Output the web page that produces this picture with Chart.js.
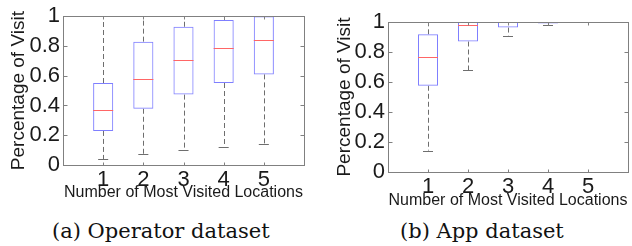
<!DOCTYPE html>
<html>
<head>
<meta charset="utf-8">
<script src="https://cdn.jsdelivr.net/npm/chart.js@4.4.1/dist/chart.umd.min.js"></script>
<style>
    body { margin: 0; background: #fff; width: 632px; height: 246px; position: relative; overflow: hidden; }
    canvas { position: absolute; top: 0; }
    .caption { position: absolute; top: 219px; font-family: 'DejaVu Serif', serif; font-size: 21px; line-height: 24px; color: #111; white-space: nowrap; }
</style>
</head>
<body>
<canvas id="operatorChart" width="316" height="215" style="left:0"></canvas>
<canvas id="appChart" width="316" height="215" style="left:316px"></canvas>
<div class="caption" style="left:52px">(a) Operator dataset</div>
<div class="caption" style="left:400px">(b) App dataset</div>
<script>
const categories = [1, 2, 3, 4, 5];
const yTickValues = [0, 0.2, 0.4, 0.6, 0.8, 1];
const yTickLabels = ['0', '0.2', '0.4', '0.6', '0.8', '1'];
const xTitle = 'Number of Most Visited Locations';
const yTitle = 'Percentage of Visit';

// Operator dataset (a)
const operatorLow = [0.04, 0.075, 0.10, 0.122, 0.142];
const operatorQ1 = [0.229, 0.378, 0.473, 0.551, 0.609];
const operatorMedian = [0.367, 0.58, 0.704, 0.785, 0.837];
const operatorQ3 = [0.551, 0.829, 0.929, 0.975, 1.0];
const operatorHigh = [1, 1, 1, 1, 1];

// App dataset (b)
const appLow = [0.143, 0.679, 0.908, 0.982, 1.0];
const appQ1 = [0.575, 0.87, 0.963, 0.99, 1.0];
const appMedian = [0.764, 0.983, 1.0, 1.0, 1.0];
const appQ3 = [0.918, 1.0, 1.0, 1.0, 1.0];
const appHigh = [1, 1, 1, 1, 1];

const BOX_COLOR = '#7f7fff';
const MEDIAN_COLOR = '#ff6666';
const WHISKER_COLOR = '#6e6e6e';
const FRAME_COLOR = '#808080';

Chart.defaults.font.family = "'Liberation Sans', Arial, sans-serif";
Chart.defaults.color = '#1a1a1a';

const crisp = v => Math.round(v) + 0.5;

// whiskers, medians, frame and inward ticks, all placed through the chart scales
const boxPlotPlugin = {
    id: 'boxPlot',
    beforeDatasetsDraw(chart) {
        const { ctx, scales: { x, y } } = chart;
        const st = chart.data.datasets[0].stats;
        ctx.save();
        ctx.strokeStyle = WHISKER_COLOR;
        ctx.lineWidth = 1;
        categories.forEach((c, i) => {
            const px = crisp(x.getPixelForValue(c));
            const capL = x.getPixelForValue(c - 0.125);
            const capR = x.getPixelForValue(c + 0.125);
            ctx.setLineDash([5, 3]);
            ctx.beginPath();
            ctx.moveTo(px, y.getPixelForValue(st.q3[i]));
            ctx.lineTo(px, y.getPixelForValue(st.high[i]));
            ctx.moveTo(px, y.getPixelForValue(st.q1[i]));
            ctx.lineTo(px, y.getPixelForValue(st.low[i]));
            ctx.stroke();
            ctx.setLineDash([]);
            ctx.beginPath();
            [st.high[i], st.low[i]].forEach(v => {
                const py = crisp(y.getPixelForValue(v));
                ctx.moveTo(capL, py);
                ctx.lineTo(capR, py);
            });
            ctx.stroke();
        });
        ctx.restore();
    },
    afterDatasetsDraw(chart) {
        const { ctx, scales: { x, y } } = chart;
        const st = chart.data.datasets[0].stats;
        ctx.save();
        ctx.strokeStyle = MEDIAN_COLOR;
        ctx.lineWidth = 1;
        ctx.beginPath();
        categories.forEach((c, i) => {
            const py = crisp(y.getPixelForValue(st.median[i]));
            ctx.moveTo(x.getPixelForValue(c - 0.25), py);
            ctx.lineTo(x.getPixelForValue(c + 0.25), py);
        });
        ctx.stroke();

        const { left, right, top, bottom } = chart.chartArea;
        const l = crisp(left), r = crisp(right), t = crisp(top), b = crisp(bottom);
        ctx.strokeStyle = FRAME_COLOR;
        ctx.strokeRect(l, t, r - l, b - t);
        ctx.beginPath();
        yTickValues.forEach(v => {
            const py = crisp(y.getPixelForValue(v));
            ctx.moveTo(l, py); ctx.lineTo(l + 4, py);
            ctx.moveTo(r, py); ctx.lineTo(r - 4, py);
        });
        categories.forEach(c => {
            const px = crisp(x.getPixelForValue(c));
            ctx.moveTo(px, b); ctx.lineTo(px, b - 3);
            ctx.moveTo(px, t); ctx.lineTo(px, t + 3);
        });
        ctx.stroke();
        ctx.restore();
    }
};

function drawBoxChart(canvasId, low, q1, median, q3, high, lay) {
    const ctx = document.getElementById(canvasId).getContext('2d');
    return new Chart(ctx, {
        type: 'bar',
        data: {
            datasets: [{
                data: categories.map((c, i) => ({ x: c, y: [q1[i], q3[i]] })),
                stats: { low, q1, median, q3, high },
                backgroundColor: 'rgba(0,0,0,0)',
                borderColor: BOX_COLOR,
                borderWidth: 1,
                borderSkipped: false,
                categoryPercentage: 1,
                barPercentage: 0.5
            }]
        },
        options: {
            responsive: false,
            animation: false,
            layout: { padding: lay.padding },
            plugins: { legend: { display: false }, tooltip: { enabled: false } },
            scales: {
                x: {
                    type: 'linear',
                    offset: false,
                    min: 0,
                    max: 6,
                    grid: { display: false, drawTicks: false, offset: false },
                    border: { display: false },
                    afterBuildTicks: s => { s.ticks = categories.map(v => ({ value: v })); },
                    afterFit: s => { s.height = lay.xHeight; },
                    ticks: { padding: 2, font: { size: 22 }, color: '#1a1a1a', callback: v => String(v) },
                    title: { display: true, text: xTitle, font: { size: 16 }, padding: 0, color: '#1a1a1a' }
                },
                y: {
                    min: 0,
                    max: 1,
                    grid: { display: false, drawTicks: false },
                    border: { display: false },
                    afterBuildTicks: s => { s.ticks = yTickValues.map(v => ({ value: v })); },
                    afterFit: s => { s.width = lay.yWidth; },
                    ticks: { padding: 3, font: { size: 22 }, color: '#1a1a1a', callback: (v, i) => yTickLabels[i] },
                    title: { display: true, text: yTitle, font: { size: 19 }, padding: { top: lay.yTitlePad, bottom: 0 }, color: '#1a1a1a' }
                }
            }
        },
        plugins: [boxPlotPlugin]
    });
}

drawBoxChart('operatorChart', operatorLow, operatorQ1, operatorMedian, operatorQ3, operatorHigh, {
    padding: { left: 0, top: 15, right: 12, bottom: 13 },
    xHeight: 37, yWidth: 63, yTitlePad: 7
});
drawBoxChart('appChart', appLow, appQ1, appMedian, appQ3, appHigh, {
    padding: { left: 0, top: 22, right: 4, bottom: 5 },
    xHeight: 38, yWidth: 72, yTitlePad: 17
});
</script>
</body>
</html>
